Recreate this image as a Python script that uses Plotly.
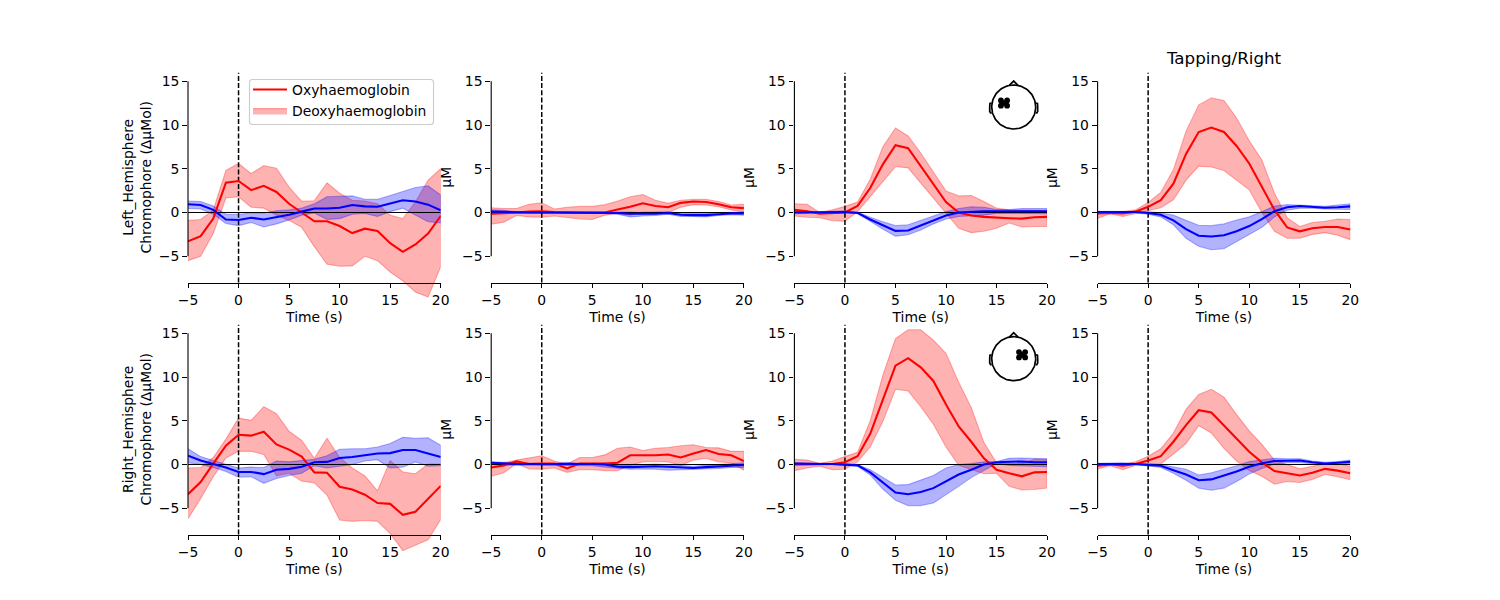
import numpy as np
import plotly.graph_objects as go

TIME = [-5, -3.75, -2.5, -1.25, 0, 1.25, 2.5, 3.75, 5, 6.25, 7.5, 8.75, 10, 11.25, 12.5, 13.75, 15, 16.25, 17.5, 18.75, 20]
X_TICKS = [-5, 0, 5, 10, 15, 20]
Y_TICKS = [-5, 0, 5, 10, 15]
ROW_LABELS = ["Left_Hemisphere<br>Chromophore (ΔμMol)", "Right_Hemisphere<br>Chromophore (ΔμMol)"]
OXY_NAME = "Oxyhaemoglobin"
DEOXY_NAME = "Deoxyhaemoglobin"
TITLE = "Tapping/Right"

# column 1, left hemisphere
a_red = [-3.3, -2.7, -0.7, 3.4, 3.6, 2.55, 3.05, 2.35, 1.0, -0.05, -1.0, -1.0, -1.55, -2.35, -1.85, -2.1, -3.5, -4.5, -3.65, -2.4, -0.4]
a_red_hi = [-0.9, -0.8, 0.3, 4.8, 5.6, 4.45, 5.35, 5.05, 2.9, 1.3, 1.35, 3.4, 2.2, 1.4, 1.3, 1.0, -0.3, -0.7, 1.2, 3.7, 5.0]
a_red_lo = [-5.5, -5.0, -2.4, 1.65, 1.8, 0.6, 0.5, -0.3, -0.9, -1.7, -3.9, -5.9, -6.15, -6.1, -5.0, -5.5, -6.8, -7.8, -9.1, -9.65, -6.2]
a_blue = [0.95, 0.85, 0.3, -0.8, -0.85, -0.6, -0.8, -0.55, -0.25, 0.1, 0.45, 0.45, 0.55, 0.85, 0.7, 0.65, 1.05, 1.4, 1.25, 0.9, 0.25]
a_blue_hi = [1.3, 1.25, 0.75, -0.2, -0.2, -0.05, -0.05, 0.2, 0.3, 0.5, 1.0, 1.8, 1.85, 1.9, 1.5, 1.5, 1.95, 2.4, 2.85, 3.05, 2.0]
a_blue_lo = [0.45, 0.4, -0.2, -1.25, -1.5, -1.15, -1.65, -1.3, -0.85, -0.3, -0.05, -0.8, -0.7, -0.2, -0.1, -0.45, 0.1, 0.5, -0.3, -1.05, -1.2]
# column 2, left hemisphere
b_red = [-0.15, -0.1, 0.0, 0.1, 0.15, 0.05, 0.0, 0.0, 0.0, 0.0, 0.35, 0.65, 1.05, 0.75, 0.6, 1.1, 1.25, 1.2, 0.95, 0.6, 0.5]
b_red_hi = [0.55, 0.45, 0.45, 0.95, 1.1, 0.4, 0.6, 0.7, 0.7, 0.9, 1.3, 1.8, 2.05, 1.4, 1.05, 1.4, 1.5, 1.5, 1.25, 0.85, 0.95]
b_red_lo = [-1.35, -1.1, -0.35, -0.5, -0.55, -0.4, -0.6, -0.75, -0.8, -0.3, -0.1, -0.3, 0.05, 0.1, 0.0, 0.6, 0.9, 0.85, 0.65, 0.3, 0.05]
b_blue = [0.1, 0.05, 0.0, 0.0, 0.0, 0.0, 0.0, 0.0, 0.0, 0.0, -0.05, -0.15, -0.15, -0.15, -0.05, -0.25, -0.3, -0.3, -0.2, -0.1, -0.1]
b_blue_hi = [0.3, 0.25, 0.1, 0.1, 0.05, 0.05, 0.05, 0.1, 0.1, 0.1, 0.1, 0.05, 0.0, 0.0, 0.1, -0.1, -0.1, -0.1, 0.0, 0.05, 0.05]
b_blue_lo = [-0.1, -0.15, -0.1, -0.1, -0.1, -0.1, -0.1, -0.1, -0.1, -0.1, -0.2, -0.5, -0.4, -0.35, -0.2, -0.45, -0.45, -0.5, -0.35, -0.25, -0.3]
# column 3, left hemisphere
c_red = [0.3, 0.15, -0.15, -0.05, 0.0, 0.75, 2.8, 5.5, 7.7, 7.35, 5.3, 3.2, 1.2, 0.0, -0.35, -0.5, -0.6, -0.65, -0.7, -0.55, -0.5]
c_red_hi = [1.0, 0.95, 0.0, 0.3, 0.7, 1.2, 3.8, 7.5, 9.65, 8.75, 6.8, 4.7, 2.45, 1.9, 1.95, 1.25, 0.5, 0.3, 0.25, 0.25, 0.25]
c_red_lo = [-0.4, -0.55, -0.6, -0.95, -1.0, 0.1, 1.8, 3.55, 5.25, 5.1, 3.4, 1.7, -0.1, -1.8, -2.3, -2.15, -1.8, -1.2, -1.65, -1.6, -1.6]
c_blue = [0.0, 0.0, 0.05, 0.05, 0.05, -0.05, -0.8, -1.45, -2.1, -2.05, -1.5, -0.9, -0.35, 0.0, 0.1, 0.15, 0.15, 0.15, 0.15, 0.15, 0.15]
c_blue_hi = [0.15, 0.1, 0.1, 0.15, 0.2, 0.05, -0.55, -1.05, -1.5, -1.4, -0.9, -0.4, 0.1, 0.45, 0.65, 0.6, 0.35, 0.35, 0.45, 0.45, 0.45]
c_blue_lo = [-0.15, -0.1, 0.0, 0.0, -0.05, -0.15, -1.0, -1.9, -2.7, -2.55, -2.0, -1.3, -0.75, -0.45, -0.4, -0.3, -0.1, -0.15, -0.15, -0.15, -0.15]
# column 4, left hemisphere
d_red = [-0.1, -0.05, -0.1, 0.1, 0.65, 1.4, 3.3, 6.7, 9.2, 9.7, 9.2, 7.6, 5.6, 3.0, 0.3, -1.7, -2.15, -1.8, -1.65, -1.65, -1.95]
d_red_hi = [0.1, 0.1, 0.1, 0.3, 1.15, 2.3, 4.9, 9.3, 12.3, 13.1, 12.8, 10.8, 8.2, 6.0, 2.2, -0.6, -1.6, -1.15, -1.0, -0.75, -0.8]
d_red_lo = [-0.65, -0.15, -0.45, -0.15, 0.2, 0.55, 1.45, 3.7, 5.3, 5.2, 4.8, 3.7, 2.6, 0.0, -2.15, -2.95, -2.95, -2.5, -2.3, -2.6, -3.1]
d_blue = [0.05, 0.05, 0.05, 0.05, -0.05, -0.25, -0.9, -1.9, -2.65, -2.75, -2.6, -2.15, -1.55, -0.75, 0.15, 0.6, 0.75, 0.65, 0.55, 0.6, 0.7]
d_blue_hi = [0.15, 0.15, 0.1, 0.1, 0.1, -0.05, -0.3, -0.9, -1.45, -1.5, -1.3, -0.85, -0.5, 0.1, 0.75, 0.9, 0.85, 0.8, 0.7, 0.85, 1.0]
d_blue_lo = [-0.1, -0.05, 0.0, -0.05, -0.2, -0.5, -1.4, -2.95, -3.85, -4.25, -4.15, -3.3, -2.55, -1.7, -0.5, 0.25, 0.5, 0.5, 0.4, 0.35, 0.35]
# column 1, right hemisphere
e_red = [-3.4, -2.0, 0.1, 2.15, 3.4, 3.3, 3.75, 2.3, 1.7, 0.9, -0.9, -0.95, -2.55, -2.85, -3.45, -4.4, -4.5, -5.75, -5.4, -3.9, -2.45]
e_red_hi = [-0.4, -0.35, 0.8, 2.9, 5.3, 5.05, 6.6, 5.8, 3.8, 2.75, 0.7, 3.0, 0.8, -0.4, -1.3, -3.0, 0.45, -0.85, -1.05, 0.05, 0.05]
e_red_lo = [-6.2, -3.9, -1.4, 0.75, 1.5, 1.5, 1.15, -1.3, -1.0, -1.9, -2.1, -3.5, -6.35, -6.5, -6.4, -6.5, -7.9, -9.85, -9.2, -8.6, -6.3]
e_blue = [1.0, 0.45, 0.05, -0.35, -0.85, -0.85, -1.1, -0.6, -0.5, -0.25, 0.25, 0.3, 0.75, 0.85, 1.05, 1.25, 1.3, 1.65, 1.65, 1.25, 0.85]
e_blue_hi = [1.8, 0.9, 0.45, 0.0, -0.4, -0.3, -0.35, 0.4, 0.3, 0.45, 0.6, 1.0, 1.75, 1.8, 1.8, 2.0, 2.4, 3.1, 3.0, 3.05, 2.2]
e_blue_lo = [0.2, 0.0, -0.35, -0.8, -1.45, -1.4, -2.15, -1.6, -1.25, -1.0, -0.15, -0.4, -0.2, 0.0, 0.4, 0.55, -0.4, -0.3, 0.3, -0.2, -0.15]
# column 2, right hemisphere
f_red = [-0.35, -0.1, 0.35, 0.05, 0.1, 0.1, -0.45, 0.1, 0.1, 0.1, 0.2, 1.05, 1.05, 1.05, 1.15, 0.8, 1.25, 1.65, 1.2, 1.05, 0.4]
f_red_hi = [0.1, 0.2, 0.5, 0.75, 1.0, 0.4, 0.05, 0.8, 0.8, 1.1, 1.85, 2.0, 1.6, 1.85, 1.95, 2.15, 2.25, 1.95, 1.9, 1.5, 1.5]
f_red_lo = [-1.35, -0.95, 0.1, -0.5, -0.55, -0.4, -0.9, -0.6, -0.6, -0.7, -0.7, -0.1, 0.3, 0.35, 0.3, -0.1, 0.5, 0.7, 0.3, 0.2, -0.65]
f_blue = [0.2, 0.1, 0.05, 0.05, 0.05, 0.05, 0.1, 0.05, 0.05, 0.0, -0.25, -0.3, -0.25, -0.2, -0.25, -0.3, -0.4, -0.3, -0.2, -0.15, -0.05]
f_blue_hi = [0.3, 0.25, 0.15, 0.1, 0.1, 0.15, 0.25, 0.15, 0.15, 0.15, -0.05, -0.05, 0.0, 0.05, -0.05, -0.1, -0.2, -0.1, 0.0, 0.05, 0.2]
f_blue_lo = [0.0, -0.05, -0.1, -0.05, -0.1, -0.1, -0.1, -0.15, -0.15, -0.3, -0.45, -0.55, -0.5, -0.55, -0.65, -0.65, -0.6, -0.5, -0.45, -0.35, -0.35]
# column 3, right hemisphere
g_red = [0.0, 0.0, 0.0, 0.05, 0.25, 0.95, 3.5, 7.5, 11.3, 12.15, 11.1, 9.55, 6.85, 4.35, 2.6, 0.7, -0.6, -1.0, -1.35, -0.9, -0.85]
g_red_hi = [0.6, 0.5, 0.15, 0.4, 0.9, 1.4, 5.0, 10.2, 14.4, 15.4, 15.4, 14.2, 12.7, 9.4, 6.5, 2.5, 0.2, 0.1, 0.1, 0.6, 0.6]
g_red_lo = [-0.7, -0.4, -0.2, -0.6, -0.55, 0.3, 2.0, 4.9, 8.6, 8.4, 6.6, 4.6, 2.0, -0.1, -0.6, -1.05, -1.0, -2.5, -2.9, -2.85, -2.7]
g_blue = [0.1, 0.05, 0.05, 0.05, 0.0, -0.1, -0.9, -2.1, -3.2, -3.4, -3.15, -2.7, -1.9, -1.15, -0.6, 0.0, 0.25, 0.3, 0.35, 0.25, 0.25]
g_blue_hi = [0.2, 0.15, 0.1, 0.1, 0.1, 0.0, -0.6, -1.5, -2.35, -2.3, -1.75, -1.25, -0.4, 0.0, 0.1, 0.3, 0.35, 0.7, 0.75, 0.7, 0.65]
g_blue_lo = [-0.05, -0.05, 0.0, 0.0, -0.1, -0.2, -1.2, -2.8, -4.1, -4.7, -4.7, -4.4, -3.5, -2.5, -1.5, -0.7, 0.1, -0.1, -0.1, -0.2, -0.25]
# column 4, right hemisphere
h_red = [-0.15, 0.0, -0.15, 0.05, 0.45, 0.95, 2.6, 4.5, 6.2, 5.95, 4.45, 2.95, 1.45, 0.25, -0.75, -1.0, -1.25, -0.95, -0.5, -0.7, -1.0]
h_red_hi = [0.1, 0.1, 0.05, 0.3, 0.95, 1.8, 3.6, 6.3, 8.0, 8.6, 7.7, 5.7, 3.85, 2.3, 0.5, 0.0, -0.5, -0.2, 0.1, 0.1, -0.2]
h_red_lo = [-0.5, -0.15, -0.6, -0.1, 0.0, 0.05, 1.2, 2.4, 4.45, 3.6, 1.85, 0.4, -0.7, -1.35, -2.25, -1.95, -2.05, -1.7, -1.15, -1.4, -1.75]
h_blue = [0.05, 0.05, 0.1, 0.05, -0.05, -0.15, -0.65, -1.15, -1.8, -1.7, -1.25, -0.8, -0.25, 0.15, 0.4, 0.45, 0.45, 0.25, 0.1, 0.2, 0.3]
h_blue_hi = [0.15, 0.15, 0.2, 0.1, 0.1, 0.0, -0.25, -0.55, -1.2, -0.95, -0.55, -0.15, 0.35, 0.5, 0.7, 0.65, 0.65, 0.4, 0.25, 0.35, 0.5]
h_blue_lo = [-0.05, -0.05, 0.0, 0.0, -0.2, -0.35, -1.0, -1.8, -2.7, -2.95, -2.7, -1.95, -1.1, -0.45, 0.05, 0.2, 0.2, 0.1, 0.0, 0.05, 0.1]

# sensor positions on the little head, in head radii
sensors_left_x = [-0.58, -0.30, -0.44, -0.58, -0.30]
sensors_left_y = [0.30, 0.30, 0.18, 0.06, 0.06]
sensors_right_x = [0.24, 0.52, 0.38, 0.24, 0.52]
sensors_right_y = [0.30, 0.30, 0.18, 0.06, 0.06]
nose_x = [-0.2, 0.0, 0.2]
nose_y = [0.98, 1.18, 0.98]
ear_x = [1.0, 1.08, 1.09, 1.09, 1.05, 1.0]
ear_y = [0.18, 0.16, 0.0, -0.2, -0.27, -0.27]

panels = [
    [(a_red, a_red_hi, a_red_lo, a_blue, a_blue_hi, a_blue_lo),
     (b_red, b_red_hi, b_red_lo, b_blue, b_blue_hi, b_blue_lo),
     (c_red, c_red_hi, c_red_lo, c_blue, c_blue_hi, c_blue_lo),
     (d_red, d_red_hi, d_red_lo, d_blue, d_blue_hi, d_blue_lo)],
    [(e_red, e_red_hi, e_red_lo, e_blue, e_blue_hi, e_blue_lo),
     (f_red, f_red_hi, f_red_lo, f_blue, f_blue_hi, f_blue_lo),
     (g_red, g_red_hi, g_red_lo, g_blue, g_blue_hi, g_blue_lo),
     (h_red, h_red_hi, h_red_lo, h_blue, h_blue_hi, h_blue_lo)],
]

W, H = 1500, 600
AX_W = 252.7
COL_L = [188, 491.2, 794.4, 1097.6]
ROW_T = [72.5, 324.5]
ROW_B = [282.5, 534.5]
PX_PER_UNIT = 8.75
Y_TOP, Y_SPINE, Y_LOW = 16, -8, -10.5
FONT = "DejaVu Sans"
BLACK = "#000000"


def ax_names(i):
    suffix = "" if i == 1 else str(i)
    return f"x{suffix}", f"y{suffix}", f"xaxis{suffix}", f"yaxis{suffix}"


def rounded_box(x0, y0, x1, y1, rad):
    fx = lambda v: f"{v / W:.5f}"
    fy = lambda v: f"{1 - v / H:.5f}"
    return (f"M {fx(x0 + rad)} {fy(y0)} L {fx(x1 - rad)} {fy(y0)} Q {fx(x1)} {fy(y0)} {fx(x1)} {fy(y0 + rad)} "
            f"L {fx(x1)} {fy(y1 - rad)} Q {fx(x1)} {fy(y1)} {fx(x1 - rad)} {fy(y1)} "
            f"L {fx(x0 + rad)} {fy(y1)} Q {fx(x0)} {fy(y1)} {fx(x0)} {fy(y1 - rad)} "
            f"L {fx(x0)} {fy(y0 + rad)} Q {fx(x0)} {fy(y0)} {fx(x0 + rad)} {fy(y0)} Z")


fig = go.Figure()
layout = dict(
    width=W, height=H, margin=dict(l=0, r=0, t=0, b=0, autoexpand=False),
    paper_bgcolor="white", plot_bgcolor="rgba(0,0,0,0)",
    font=dict(family=FONT, size=13.9, color=BLACK),
    title=dict(text=TITLE, x=1224 / W, xanchor="center", y=1 - 58 / H, yanchor="middle",
               font=dict(size=16.7, family=FONT, color=BLACK)),
    legend=dict(x=248 / W, xanchor="left", y=1 - 74 / H, yanchor="top",
                bgcolor="rgba(0,0,0,0)", borderwidth=0,
                font=dict(size=13.9, family=FONT, color=BLACK), itemwidth=34),
    showlegend=True,
)
shapes = [dict(type="path", xref="paper", yref="paper", path=rounded_box(249.5, 79.5, 433.5, 124.5, 3),
               fillcolor="rgba(255,255,255,0.8)", line=dict(color="#cccccc", width=1.1))]
annotations = []

idx = 0
for r in range(2):
    for c in range(4):
        idx += 1
        xn, yn, xk, yk = ax_names(idx)
        red, red_hi, red_lo, blue, blue_hi, blue_lo = panels[r][c]
        first = idx == 1
        fig.add_trace(go.Scatter(x=TIME + TIME[::-1], y=red_hi + red_lo[::-1], fill="toself", mode="lines",
                                 fillcolor="rgba(255,0,0,0.3)", line=dict(color="rgba(255,0,0,0.3)", width=1.1),
                                 name=DEOXY_NAME, showlegend=first, legendrank=2, xaxis=xn, yaxis=yn, hoverinfo="skip"))
        fig.add_trace(go.Scatter(x=TIME + TIME[::-1], y=blue_hi + blue_lo[::-1], fill="toself", mode="lines",
                                 fillcolor="rgba(0,0,255,0.3)", line=dict(color="rgba(0,0,255,0.3)", width=1.1),
                                 showlegend=False, xaxis=xn, yaxis=yn, hoverinfo="skip"))
        fig.add_trace(go.Scatter(x=[0, 0], y=[Y_SPINE, Y_TOP], mode="lines", line=dict(color=BLACK, width=1.5, dash="5px,2.2px"),
                                 showlegend=False, xaxis=xn, yaxis=yn, hoverinfo="skip"))
        fig.add_trace(go.Scatter(x=[TIME[0], TIME[-1]], y=[0, 0], mode="lines", line=dict(color=BLACK, width=1.1),
                                 showlegend=False, xaxis=xn, yaxis=yn, hoverinfo="skip"))
        fig.add_trace(go.Scatter(x=TIME, y=red, mode="lines", line=dict(color="#ff0000", width=2.08),
                                 name=OXY_NAME, showlegend=first, legendrank=1, xaxis=xn, yaxis=yn, hoverinfo="skip"))
        fig.add_trace(go.Scatter(x=TIME, y=blue, mode="lines", line=dict(color="#0000ff", width=2.08),
                                 showlegend=False, xaxis=xn, yaxis=yn, hoverinfo="skip"))
        low_px = ROW_B[r] + (Y_SPINE - Y_LOW) * PX_PER_UNIT
        layout[xk] = dict(domain=[COL_L[c] / W, (COL_L[c] + AX_W) / W], range=[TIME[0], TIME[-1]],
                          anchor="free", position=1 - ROW_B[r] / H, automargin=True,
                          tickmode="array", tickvals=X_TICKS, ticks="outside", ticklen=4.9, tickwidth=1.1, tickcolor=BLACK,
                          showline=True, linecolor=BLACK, linewidth=1.1, showgrid=False, zeroline=False,
                          tickfont=dict(size=13.9, family=FONT, color=BLACK),
                          title=dict(text="Time (s)", standoff=5, font=dict(size=13.9, family=FONT, color=BLACK)))
        layout[yk] = dict(domain=[1 - low_px / H, 1 - ROW_T[r] / H], range=[Y_LOW, Y_TOP], anchor=xn,
                          tickmode="array", tickvals=Y_TICKS, ticks="outside", ticklen=4.9, tickwidth=1.1, tickcolor=BLACK,
                          showline=False, showgrid=False, zeroline=False,
                          tickfont=dict(size=13.9, family=FONT, color=BLACK))
        # left spine spans only the first to last tick
        shapes.append(dict(type="line", xref=f"{xn} domain", yref=yn, x0=0, x1=0, y0=Y_TICKS[0], y1=Y_TICKS[-1],
                           line=dict(color=BLACK, width=1.1)))
        mid = (ROW_T[r] + ROW_B[r]) / 2
        if c == 0:
            annotations.append(dict(text=ROW_LABELS[r], xref="paper", yref="paper", x=136 / W, y=1 - mid / H,
                                    textangle=-90, showarrow=False, xanchor="center", yanchor="middle", align="center",
                                    font=dict(size=13.9, family=FONT, color=BLACK)))
        else:
            annotations.append(dict(text="μM", xref="paper", yref="paper", x=(COL_L[c] - 46) / W, y=1 - mid / H,
                                    textangle=-90, showarrow=False, xanchor="center", yanchor="middle",
                                    font=dict(size=13.9, family=FONT, color=BLACK)))

# little head insets
HEAD_PX = 30
heads = [(1013.7, 107, sensors_left_x, sensors_left_y), (1013.7, 358.7, sensors_right_x, sensors_right_y)]
theta = np.linspace(0, 2 * np.pi, 121)
for k, (cx, cy, sx, sy) in enumerate(heads):
    xn, yn, xk, yk = ax_names(9 + k)
    span = HEAD_PX / 22
    layout[xk] = dict(domain=[(cx - HEAD_PX) / W, (cx + HEAD_PX) / W], range=[-span, span], visible=False, anchor=yn)
    layout[yk] = dict(domain=[1 - (cy + HEAD_PX) / H, 1 - (cy - HEAD_PX) / H], range=[-span, span], visible=False, anchor=xn)
    line = dict(color=BLACK, width=1.7)
    outlines = [(np.cos(theta).tolist(), np.sin(theta).tolist()), (nose_x, nose_y), (ear_x, ear_y),
                ([-v for v in ear_x], ear_y)]
    for ox, oy in outlines:
        fig.add_trace(go.Scatter(x=ox, y=oy, mode="lines", line=line, showlegend=False, xaxis=xn, yaxis=yn, hoverinfo="skip"))
    fig.add_trace(go.Scatter(x=sx, y=sy, mode="markers", marker=dict(color=BLACK, size=5.8), showlegend=False,
                             xaxis=xn, yaxis=yn, hoverinfo="skip"))

layout["shapes"] = shapes
layout["annotations"] = annotations
fig.update_layout(**layout)
fig.write_html("out.html", post_script="document.body.style.margin='0';", config={"displayModeBar": False})
